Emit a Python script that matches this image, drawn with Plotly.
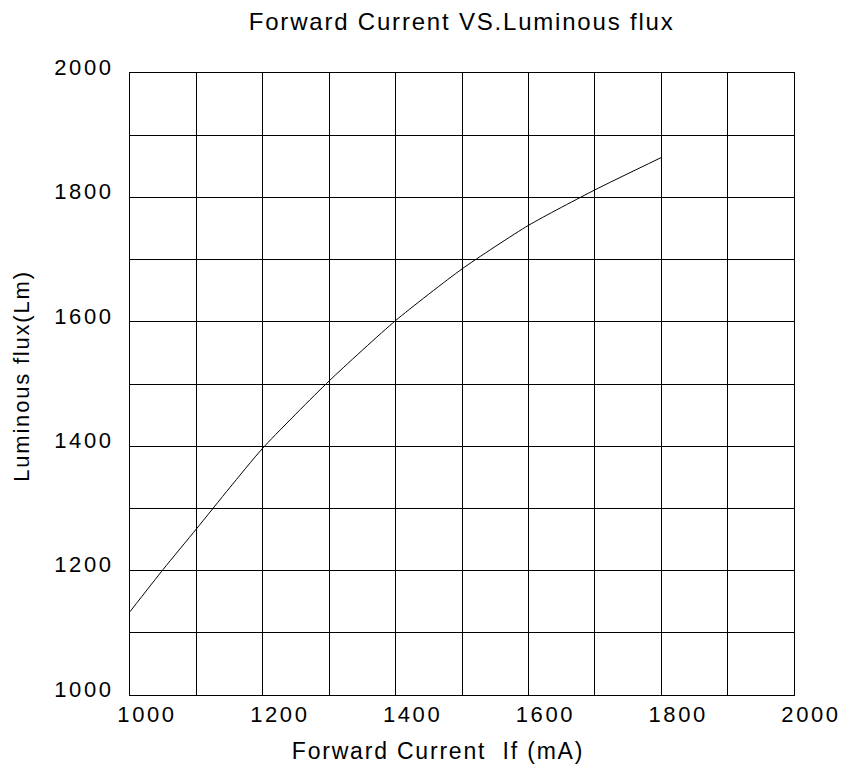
import plotly.graph_objects as go

# Data
forward_current = [1000, 1050, 1100, 1150, 1200, 1300, 1400, 1500, 1600, 1700, 1800]
luminous_flux = [1134, 1202, 1267, 1333, 1397, 1505, 1602, 1685, 1755, 1812, 1864]

x_ticks = [1000, 1200, 1400, 1600, 1800, 2000]
y_ticks = [1000, 1200, 1400, 1600, 1800, 2000]

FONT = "Liberation Sans, Arial, sans-serif"

fig = go.Figure()
fig.add_trace(go.Scatter(
    x=forward_current, y=luminous_flux, mode="lines",
    line=dict(color="black", width=1, shape="spline", smoothing=0.6),
    showlegend=False, hoverinfo="x+y",
))

fig.update_layout(
    width=847, height=783,
    margin=dict(l=130, r=50, t=73, b=88),
    paper_bgcolor="white", plot_bgcolor="white",
    font=dict(family=FONT, color="black"),
    title=dict(text="Forward Current VS.Luminous flux", x=0.545, xanchor="center",
               y=1 - 22 / 783, yanchor="middle", yref="container",
               font=dict(size=24, family=FONT, color="black")),
)

fig.update_xaxes(
    range=[1000, 2000], tickvals=x_ticks, ticktext=[str(v) for v in x_ticks],
    showgrid=True, gridcolor="black", gridwidth=1,
    minor=dict(showgrid=True, gridcolor="black", gridwidth=1, dtick=100, tick0=1000),
    showline=True, linecolor="black", linewidth=1, mirror=True,
    ticks="", ticklabelshift=17, ticklabelstandoff=0,
    tickfont=dict(size=22, family=FONT, color="black"),
    title=dict(text="Forward Current  If (mA)", standoff=16,
               font=dict(size=23, family=FONT, color="black")),
    zeroline=False,
)
fig.update_yaxes(
    range=[1000, 2000], tickvals=y_ticks, ticktext=[str(v) for v in y_ticks],
    showgrid=True, gridcolor="black", gridwidth=1,
    minor=dict(showgrid=True, gridcolor="black", gridwidth=1, dtick=100, tick0=1000),
    showline=True, linecolor="black", linewidth=1, mirror=True,
    ticks="", ticklabelshift=-6, ticklabelstandoff=11,
    tickfont=dict(size=22, family=FONT, color="black"),
    title=dict(text="Luminous flux(Lm)", standoff=28,
               font=dict(size=22, family=FONT, color="black")),
    zeroline=False,
)

post = """
document.documentElement.style.margin='0';
document.body.style.margin='0';
document.body.style.padding='0';
var s=document.createElement('style');
s.textContent='.xtick text,.ytick text{letter-spacing:2.6px}'
 + '.gtitle,.g-xtitle text,.g-ytitle text{letter-spacing:1.8px}'
 + '.g-xtitle{transform:translateX(-24px)}'
 + '.g-ytitle{transform:translateY(-8px)}';
document.head.appendChild(s);
"""

fig.write_html("out.html", post_script=post, config={"displayModeBar": False})
